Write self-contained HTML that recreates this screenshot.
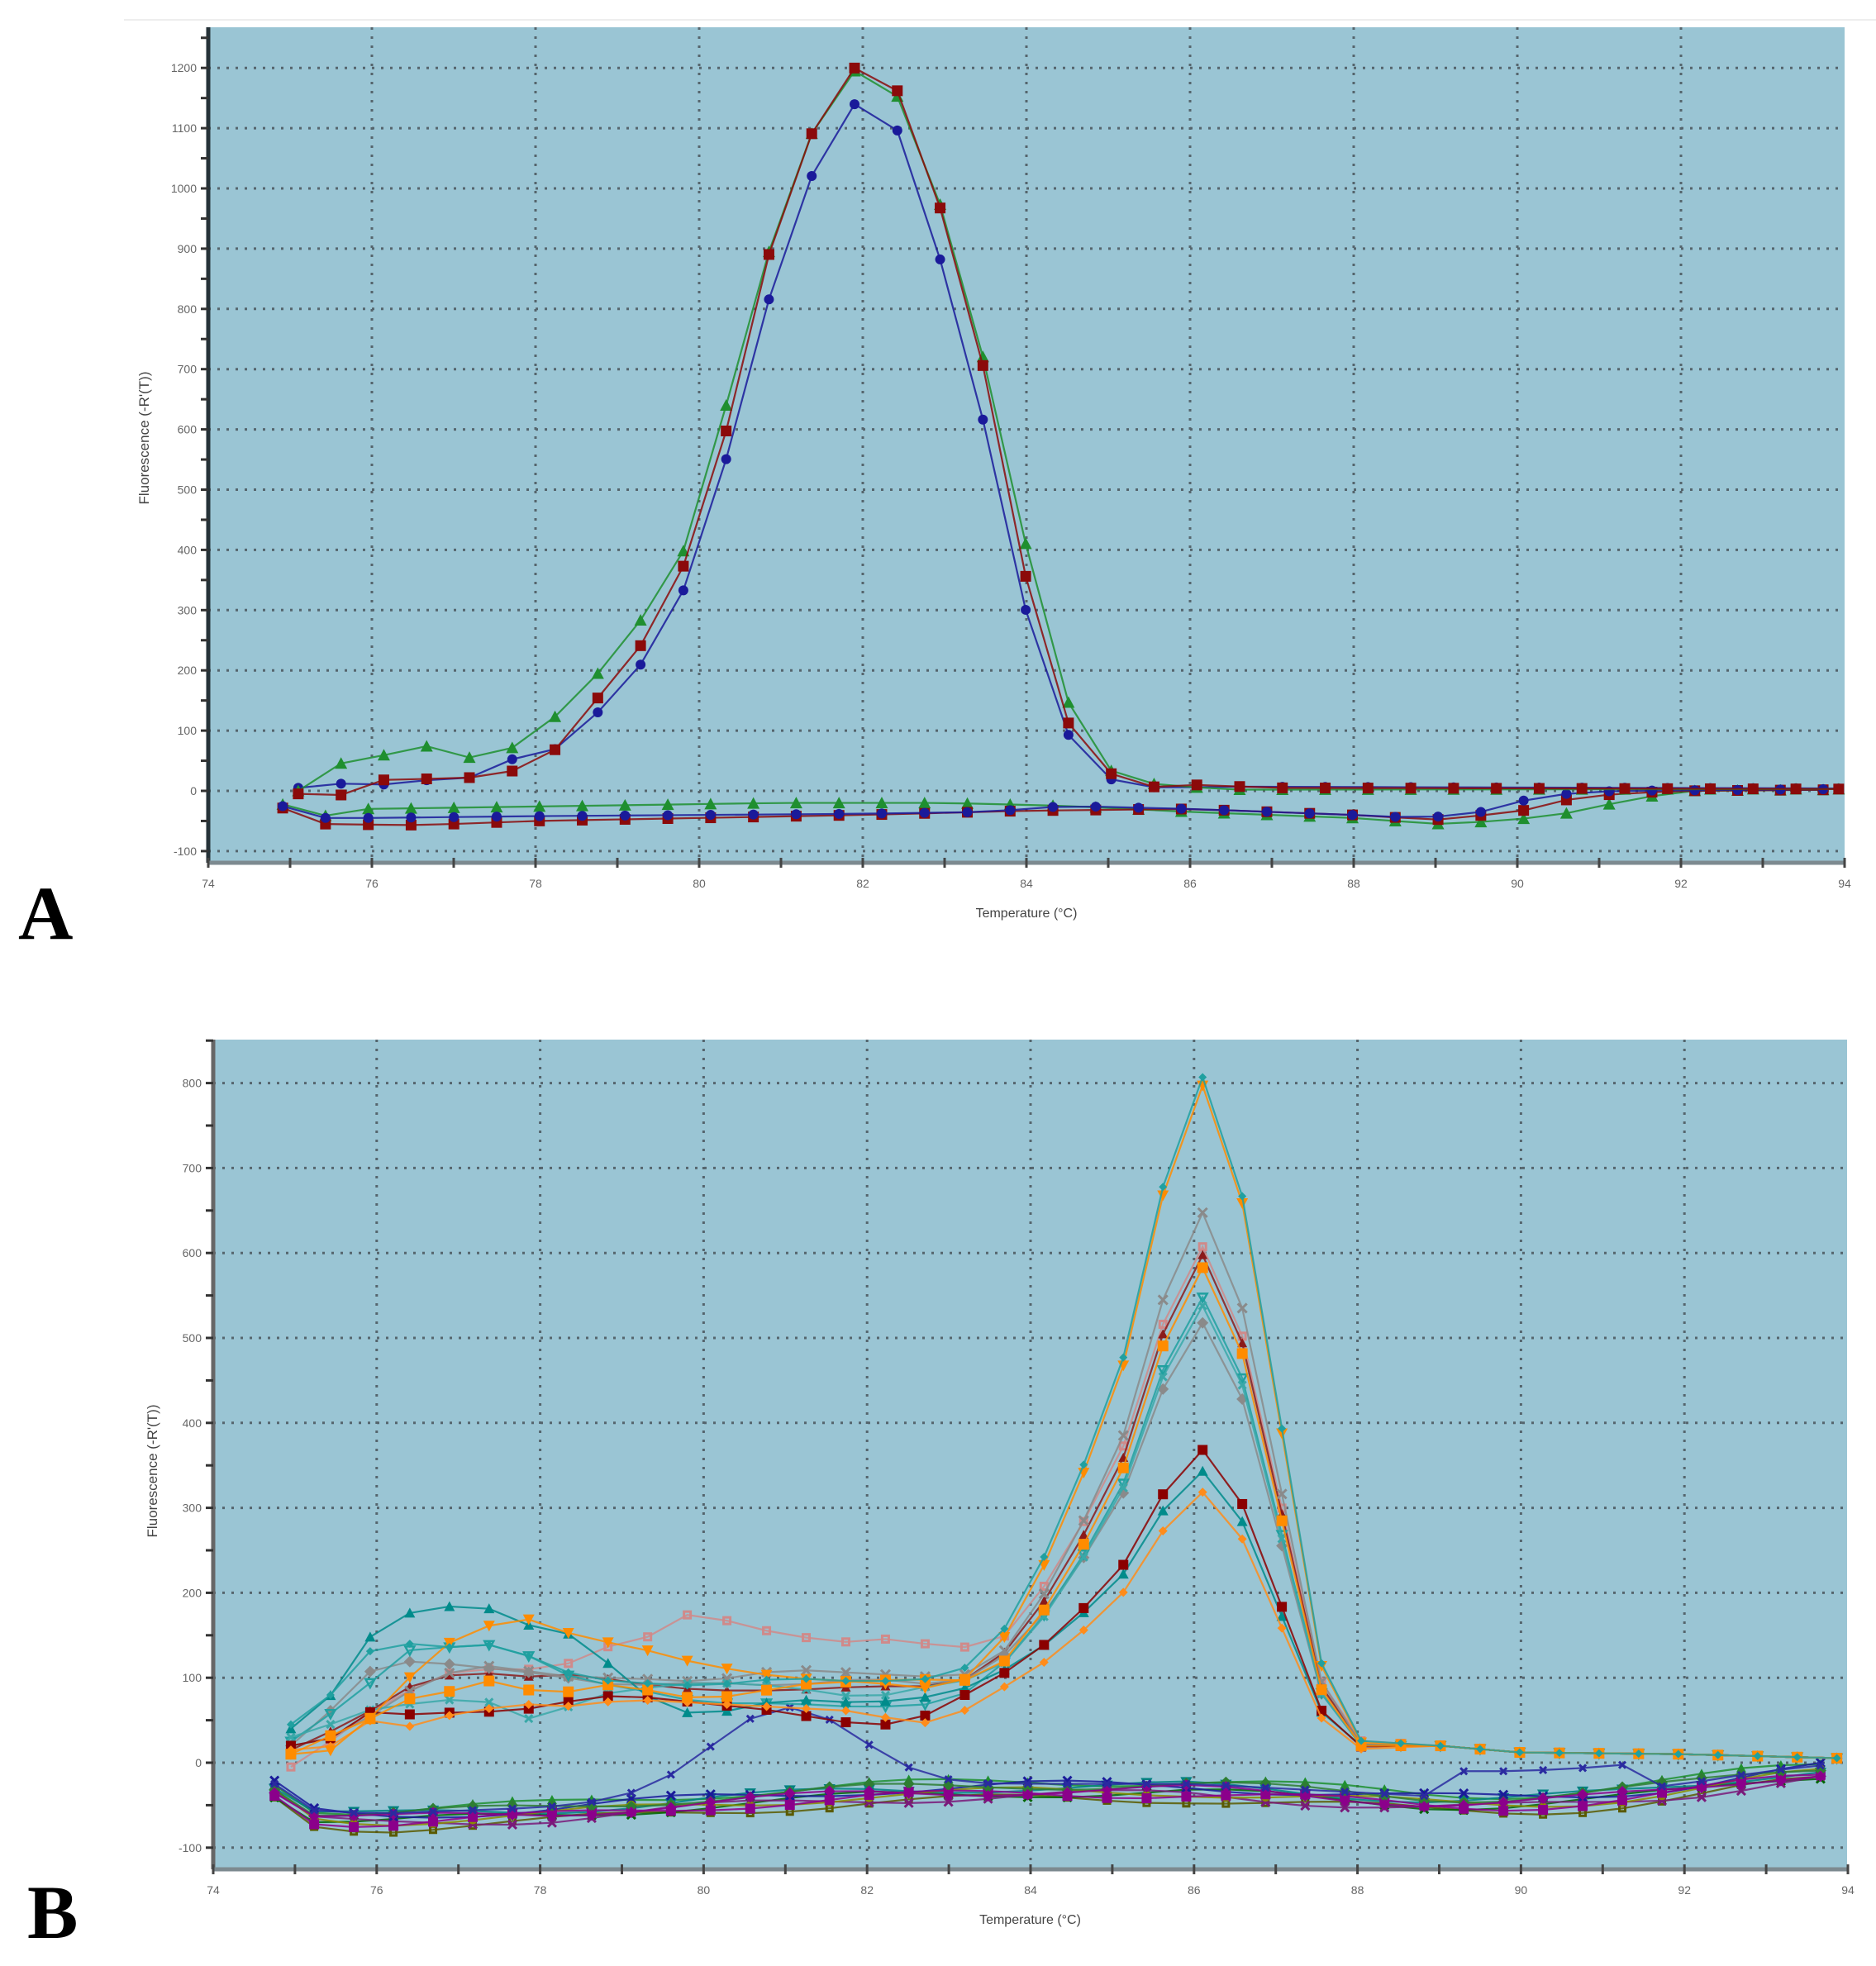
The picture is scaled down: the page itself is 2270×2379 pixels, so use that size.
<!DOCTYPE html>
<html><head><meta charset="utf-8">
<style>
html,body{margin:0;padding:0;background:#fff;}
body{width:2270px;height:2379px;overflow:hidden;position:relative;font-family:"Liberation Sans",sans-serif;}
svg{position:absolute;left:0;top:0;}
</style></head>
<body>
<svg id="s" width="2270" height="2379" xmlns="http://www.w3.org/2000/svg">
<line x1="150" y1="24" x2="2270" y2="24" stroke="#eeeeee" stroke-width="2"/>
<text x="22" y="1136" font-family="Liberation Serif,serif" font-weight="bold" font-size="92" fill="#000">A</text>
<text x="33" y="2345" font-family="Liberation Serif,serif" font-weight="bold" font-size="92" fill="#000">B</text>
</svg>
<script>
const NS="http://www.w3.org/2000/svg";
const S=document.getElementById('s');
function el(t,a,p){const e=document.createElementNS(NS,t);for(const k in a)e.setAttribute(k,a[k]);(p||S).appendChild(e);return e;}
function interp(kp,T){if(T<=kp[0][0])return kp[0][1];for(let i=1;i<kp.length;i++){if(T<=kp[i][0]){const a=kp[i-1],b=kp[i];return a[1]+(b[1]-a[1])*(T-a[0])/(b[0]-a[0]);}}return kp[kp.length-1][1];}

function axes(P){
  el('rect',{x:P.l,y:P.t,width:P.r-P.l,height:P.b-P.t,fill:'#9ac5d4'});
  // grid
  for(let v=P.vmin;v<=P.vmax;v+=100){const y=P.y(v);el('line',{x1:P.l,y1:y,x2:P.r,y2:y,stroke:'#55656d','stroke-width':3,'stroke-dasharray':'3 8'});}
  for(let T=76;T<94;T+=2){const x=P.x(T);el('line',{x1:x,y1:P.t,x2:x,y2:P.b,stroke:'#55656d','stroke-width':3,'stroke-dasharray':'3 8'});}
  // left axis
  el('line',{x1:P.l,y1:P.t,x2:P.l,y2:P.b,stroke:P.axc,'stroke-width':5});
  el('line',{x1:P.l,y1:P.b,x2:P.r,y2:P.b,stroke:'#7d8a90','stroke-width':5});
  for(let v=P.vmin-50;v<=P.vmax+50;v+=50){const y=P.y(v);if(y<P.t||y>P.b)continue;el('line',{x1:P.l-9,y1:y,x2:P.l,y2:y,stroke:'#333','stroke-width':3});
    if(v%100==0){const t=el('text',{x:P.l-14,y:y+5,'font-size':14,'text-anchor':'end',fill:'#666'});t.textContent=v;}}
  for(let T=74;T<=94;T++){const x=P.x(T);el('line',{x1:x,y1:P.b-6,x2:x,y2:P.b+6,stroke:'#444','stroke-width':3});
    if(T%2==0){const t=el('text',{x:x,y:P.b+30,'font-size':14,'text-anchor':'middle',fill:'#666'});t.textContent=T;}}
  const yl=el('text',{x:0,y:0,'font-size':17,'text-anchor':'middle',fill:'#444',transform:`translate(${P.ylx},${P.yly}) rotate(-90)`});yl.textContent="Fluorescence (-R'(T))";
  const xl=el('text',{x:(P.l+P.r)/2,y:P.xly,'font-size':16,'text-anchor':'middle',fill:'#444'});xl.textContent="Temperature (°C)";
}
function marker(g,sh,x,y,s,c){
  const h=s/2;
  if(sh=='sq')el('rect',{x:x-h,y:y-h,width:s,height:s,fill:c},g);
  else if(sh=='osq')el('rect',{x:x-h+1.5,y:y-h+1.5,width:s-3,height:s-3,fill:'none',stroke:c,'stroke-width':3},g);
  else if(sh=='ci')el('circle',{cx:x,cy:y,r:h,fill:c},g);
  else if(sh=='tu')el('polygon',{points:`${x},${y-h-1} ${x+h+1},${y+h} ${x-h-1},${y+h}`,fill:c},g);
  else if(sh=='td')el('polygon',{points:`${x},${y+h+1} ${x+h+1},${y-h} ${x-h-1},${y-h}`,fill:c},g);
  else if(sh=='otd')el('polygon',{points:`${x},${y+h} ${x+h},${y-h+1} ${x-h},${y-h+1}`,fill:'none',stroke:c,'stroke-width':2.5},g);
  else if(sh=='di')el('polygon',{points:`${x},${y-h-1} ${x+h+1},${y} ${x},${y+h+1} ${x-h-1},${y}`,fill:c},g);
  else if(sh=='x'){el('path',{d:`M${x-h},${y-h}L${x+h},${y+h}M${x-h},${y+h}L${x+h},${y-h}`,stroke:c,'stroke-width':3},g);}
}
function series(P,Ts,kp,c,sh,ms,fn){
  const g=el('g',{});
  const pts=Ts.map(T=>[P.x(T),P.y(fn?fn(T):interp(kp,T))]);
  el('polyline',{points:pts.map(p=>p.join(',')).join(' '),fill:'none',stroke:c,'stroke-width':2.2,'stroke-opacity':0.85},g);
  pts.forEach(p=>marker(g,sh,p[0],p[1],ms,c));
}
// ---------- Chart A ----------
const A={l:252,t:33,r:2232,b:1044,vmin:-100,vmax:1200,axc:'#263238',
 x:T=>252+(T-74)*99, y:v=>957-v*0.729, ylx:180,yly:530,xly:1110};
axes(A);
const TuA=[],TlA=[];for(let k=0;k<=36;k++){TuA.push(75.1+0.523*k);TlA.push(74.91+0.523*k);}
const lowGreen=[[74.9,-22],[75.4,-42],[75.9,-30],[77,-28],[79,-24],[81,-20],[83,-20],[84.5,-25],[86,-35],[88,-45],[89,-55],[89.8,-50],[90.5,-40],[91.2,-20],[92,0],[94,2]];
const lowBlue=[[74.9,-25],[75.4,-45],[76,-45],[78,-42],[80,-40],[82,-38],[83.5,-35],[84.5,-25],[86,-30],[87,-35],[88,-40],[88.8,-45],[89.3,-40],[89.8,-30],[90.1,-15],[90.6,-5],[91.2,0],[94,3]];
const lowRed=[[74.9,-28],[75.4,-55],[76.4,-57],[77,-55],[78,-50],[80,-45],[82,-40],[84,-33],[86,-30],[88,-40],[89,-48],[90,-35],[90.6,-15],[91.2,-5],[92,0],[94,2]];
series(A,TlA,lowGreen,'#1f8f2f','tu',13);
series(A,TlA,lowRed,'#8b0a0a','sq',13);
series(A,TlA,lowBlue,'#1a1a9a','ci',12);
const upGreen=[[75.1,0],[75.6,45],[76.1,58],[76.7,75],[77.2,55],[77.7,70],[78.2,118],[78.7,185],[79.2,265],[79.8,395],[80.3,625],[80.8,875],[81.4,1100],[81.9,1195],[82.4,1160],[82.9,995],[83.5,705],[84,405],[84.5,150],[85,35],[85.6,10],[86.5,2],[94,3]];
const upRed=[[75.1,-5],[75.6,-8],[76.1,18],[76.7,20],[77.2,22],[77.7,32],[78.2,62],[78.7,145],[79.2,220],[79.8,370],[80.3,580],[80.8,870],[81.4,1100],[81.9,1200],[82.4,1170],[82.9,990],[83.5,690],[84,350],[84.5,115],[85,30],[85.6,5],[86.1,10],[87,5],[94,3]];
const upBlue=[[75.1,5],[75.6,12],[76.1,10],[76.7,18],[77.2,22],[77.7,52],[78.2,65],[78.7,122],[79.2,190],[79.8,330],[80.3,535],[80.8,795],[81.4,1030],[81.9,1140],[82.4,1105],[82.9,905],[83.5,600],[84,295],[84.5,95],[85,20],[85.6,5],[86.5,7],[94,4]];
series(A,TuA,upBlue,'#1a1a9a','ci',12);
series(A,TuA,upGreen,'#1f8f2f','tu',13);
series(A,TuA,upRed,'#8b0a0a','sq',13);

// ---------- Chart B ----------
const B={l:258,t:1258,r:2235,b:2262,vmin:-100,vmax:800,axc:'#666',
 x:T=>258+(T-74)*98.9, y:v=>2133-v*1.028, ylx:190,yly:1780,xly:2328};
axes(B);
const TuB=[],TlB=[];for(let k=0;k<=39;k++){TuB.push(74.95+0.485*k);TlB.push(74.75+0.485*k);}
const lowBase=[[74.75,-30],[75.25,-62],[76,-65],[78,-58],[80,-45],[82,-35],[84,-30],[86,-30],[88,-40],[89,-45],[90,-45],[91,-40],[92,-30],[93,-15],[94,-5]];
const lows=[['#5a5a00','osq',0+-12],['#1f8f2f','tu',8],['#006400','x',-5],['#008080','otd',2],['#7a1a7a','x',-8],['#1a1a9a','x',3],['#8b8b00','ci',-4],['#8b008b','sq',-6],['#2e7d32','di',4],['#8b008b','di',-2]];
lows.forEach((s,i)=>series(B,TlB,null,s[0],s[1],(s[1]=='sq'||s[1]=='di')?12:10,T=>interp(lowBase,T)+s[2]+6*Math.sin(T*1.3+i)));
// blue bump
series(B,TlB,null,'#2a2aa0','x',8,T=>interp(lowBase,T)+5+100*Math.exp(-Math.pow((T-81)/1.25,2))+(T>89.2&&T<91.5?30:0));
const f=[[83.5,0],[84,0.12],[84.5,0.28],[85.1,0.5],[85.6,0.8],[86.1,1],[86.6,0.82],[87.1,0.45],[87.6,0.08],[88,0],[94,0]];
function upF(low,peak){
  const b=interp(low,83.5);const P=peak-0.55*b;
  return T=>{
    if(T<83.5)return interp(low,T);
    let base;
    if(T<=88)base=b*(1-(T-83.5)/4.5*0.8);
    else base=interp([[88,0.2*b],[89,20],[90,12],[92,10],[94,5]],T);
    return base+P*interp(f,T);
  };
}
const ups=[
 ['#d08a8a','osq',[[75,-5],[75.5,30],[76,65],[76.5,90],[77,110],[77.5,110],[78,110],[78.5,120],[79,145],[79.5,150],[80,190],[80.5,150],[81,160],[81.5,135],[82,150],[82.5,140],[83,140],[83.5,130]],610,11],
 ['#8b1a1a','tu',[[75,15],[76,65],[76.5,95],[77,105],[77.5,105],[78,100],[78.5,105],[79,95],[80,85],[81,85],[82,90],[83,90],[83.5,110]],600,10],
 ['#8a8a8a','x',[[75,20],[75.5,30],[76,60],[76.5,90],[77,110],[77.5,115],[78,105],[78.5,100],[79,100],[80,95],[81,110],[82,105],[83,100],[83.5,110]],650,11],
 ['#8a8a8a','di',[[75,20],[76,115],[76.5,120],[77,115],[78,105],[79,90],[80,95],[81,90],[82,100],[83,90],[83.5,110]],520,12],
 ['#20a0a0','otd',[[75,25],[76,100],[76.5,140],[77,135],[77.5,140],[78,120],[78.5,95],[79,90],[80,70],[81,70],[82,65],[83,70],[83.5,100]],550,11],
 ['#3aa8a8','x',[[75,30],[76,65],[76.5,70],[77,75],[77.5,70],[78,45],[78.5,75],[79,85],[80,95],[81,90],[82,75],[83,95],[83.5,100]],540,9],
 ['#008b8b','tu',[[75,40],[75.5,85],[76,160],[76.5,180],[77,185],[77.5,180],[78,155],[78.5,150],[79,100],[79.5,65],[80,55],[81,75],[82,70],[83,80],[83.5,100]],345,11],
 ['#8b0000','sq',[[75,20],[75.5,30],[76,65],[76.5,55],[77,60],[77.5,60],[78,65],[78.5,75],[79,80],[80,70],[80.5,65],[81,60],[81.5,50],[82,45],[82.5,45],[83,70],[83.5,95]],370,12],
 ['#ff8c1a','di',[[75,15],[75.5,20],[76,55],[76.5,40],[77,60],[77.5,65],[78,70],[78.5,65],[79,75],[80,70],[81,65],[82,60],[82.5,45],[83,50],[83.5,80]],320,9],
 ['#ff8c00','sq',[[75,10],[75.5,35],[76,55],[76.5,80],[77,85],[77.5,100],[78,80],[78.5,85],[79,95],[79.5,80],[80,75],[80.5,80],[81,90],[81.5,95],[82,95],[82.5,100],[83,95],[83.5,100]],585,13],
 ['#ff8c00','td',[[75,10],[75.5,15],[76,60],[76.5,110],[77,150],[77.5,165],[78,170],[78.5,145],[79,140],[80,115],[81,100],[82,95],[83,85],[83.5,120]],800,12],
 ['#20a0a0','di',[[75,45],[75.5,85],[76,140],[76.5,140],[77,135],[77.5,140],[78,120],[78.5,100],[79,95],[80,90],[81,100],[82,95],[83,100],[83.5,130]],810,8]
];
ups.forEach(s=>series(B,TuB,null,s[0],s[1],s[4],upF(s[2],s[3])));
</script>
</body></html>
